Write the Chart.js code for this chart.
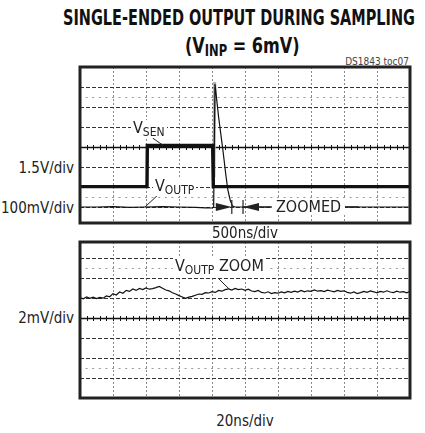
<!DOCTYPE html>
<html>
<head>
<meta charset="utf-8">
<script src="https://cdn.jsdelivr.net/npm/chart.js@4"></script>
<style>
  body { margin: 0; background: #fff; width: 425px; height: 433px; position: relative; overflow: hidden;
         font-family: 'Liberation Sans Narrow', 'DejaVu Sans Condensed', 'Liberation Sans', sans-serif; color: #222; }
  .t { position: absolute; white-space: nowrap; line-height: 1; }
  .title { font-weight: bold; font-size: 21px; transform-origin: 0 0; color: #111; }
  .title sub { font-size: 15px; vertical-align: -3px; }
  .lbl { font-size: 16px; background: #fff; padding: 0 2px; }
  .lbl sub { font-size: 12px; vertical-align: -3px; }
  .side { font-size: 15px; text-align: right; }
  .div { font-size: 15px; transform: translateX(-50%); }
  canvas { position: absolute; }
</style>
</head>
<body>
<div class="t title" id="t1" style="left:63px;top:8px">SINGLE-ENDED OUTPUT DURING SAMPLING</div>
<div class="t title" id="t2" style="left:185px;top:36px">(V<sub>INP</sub> = 6mV)</div>
<div class="t" style="right:16px;top:57px;font-size:10px;color:#444">DS1843 toc07</div>

<canvas id="top" width="338" height="164" style="left:76px;top:63px"></canvas>
<canvas id="zoom" width="338" height="164" style="left:76px;top:238px"></canvas>

<div class="t side" style="right:351px;top:161px">1.5V/div</div>
<div class="t side" style="right:351px;top:201px">100mV/div</div>
<div class="t side" style="right:351px;top:311px">2mV/div</div>
<div class="t div" style="left:245px;top:226px">500ns/div</div>
<div class="t div" style="left:245px;top:414px">20ns/div</div>

<div class="t lbl" style="left:131px;top:120px">V<sub>SEN</sub></div>
<div class="t lbl" style="left:153px;top:178px">V<sub>OUTP</sub></div>
<div class="t lbl" style="left:272px;top:199px;padding:0 4px">ZOOMED</div>
<div class="t lbl" style="left:173px;top:258px">V<sub>OUTP</sub> ZOOM</div>

<script>
// time in divisions (500ns/div top, 20ns/div bottom), level in divisions
const vsenT = [0, 2.03, 2.04, 4.02, 4.04, 10];
const vsenV = [2.02, 2.02, 4.08, 4.08, 2.02, 2.02];

const voutpT = [0, 0.5, 1.0, 1.5, 2.0, 2.5, 3.0, 3.5, 3.8, 4.0, 4.05, 4.09, 4.2, 4.33, 4.42, 4.48, 4.55, 4.62, 4.7, 5.0, 5.5, 6.0, 7.0, 8.0, 9.0, 10];
const voutpV = [1.0, 1.0, 1.02, 0.98, 1.0, 1.02, 1.0, 0.98, 0.96, 0.95, 1.0, 7.15, 5.5, 3.85, 2.6, 1.85, 1.35, 1.05, 1.0, 1.0, 1.0, 1.0, 1.0, 1.0, 1.0, 1.0];

const spikeT = [4.06, 4.08, 4.11];
const spikeV = [2.5, 7.25, 6.3];

const zoomT = [0, 0.1, 0.2, 0.3, 0.4, 0.5, 0.6, 0.7, 0.8, 0.9,
  1.0, 1.1, 1.2, 1.3, 1.4, 1.5, 1.6, 1.7, 1.8, 1.9,
  2.0, 2.1, 2.2, 2.3, 2.4, 2.5, 2.6, 2.7, 2.8, 2.9,
  3.0, 3.1, 3.2, 3.3, 3.4, 3.5, 3.6, 3.7, 3.8, 3.9,
  4.0, 4.1, 4.2, 4.3, 4.4, 4.5, 4.6, 4.7, 4.8, 4.9,
  5.0, 5.1, 5.2, 5.3, 5.4, 5.5, 5.6, 5.7, 5.8, 5.9,
  6.0, 6.1, 6.2, 6.3, 6.4, 6.5, 6.6, 6.7, 6.8, 6.9,
  7.0, 7.1, 7.2, 7.3, 7.4, 7.5, 7.6, 7.7, 7.8, 7.9,
  8.0, 8.1, 8.2, 8.3, 8.4, 8.5, 8.6, 8.7, 8.8, 8.9,
  9.0, 9.1, 9.2, 9.3, 9.4, 9.5, 9.6, 9.7, 9.8, 9.9, 10];
const zoomV = [5.02, 4.96, 5.05, 4.98, 5.04, 4.97, 5.03, 4.99, 5.10, 5.06,
  5.22, 5.15, 5.30, 5.24, 5.38, 5.33, 5.45, 5.38, 5.48, 5.42,
  5.50, 5.44, 5.47, 5.52, 5.58, 5.49, 5.40, 5.36, 5.26, 5.20,
  5.12, 5.05, 4.98, 5.04, 5.08, 5.14, 5.20, 5.18, 5.27, 5.25,
  5.32, 5.28, 5.38, 5.34, 5.42, 5.46, 5.40, 5.48, 5.42, 5.45,
  5.38, 5.44, 5.35, 5.32, 5.38, 5.28, 5.25, 5.31, 5.22, 5.27,
  5.24, 5.30, 5.26, 5.33, 5.28, 5.34, 5.30, 5.38, 5.31, 5.36,
  5.33, 5.40, 5.34, 5.37, 5.32, 5.39, 5.35, 5.31, 5.38, 5.33,
  5.36, 5.28, 5.24, 5.30, 5.22, 5.27, 5.33, 5.28, 5.35, 5.31,
  5.26, 5.33, 5.29, 5.36, 5.30, 5.27, 5.34, 5.29, 5.32, 5.26, 5.33];

const pts = (t, v) => t.map((x, i) => ({x, y: v[i]}));

// scope graticule + frame
const graticule = {
  id: 'graticule',
  beforeDatasetsDraw(chart) {
    const {ctx, chartArea: a, scales: {x, y}} = chart;
    const seg = (x1, y1, x2, y2) => { ctx.beginPath(); ctx.moveTo(x1, y1); ctx.lineTo(x2, y2); ctx.stroke(); };
    ctx.save();
    ctx.lineWidth = 1;
    ctx.strokeStyle = '#8a8a8a';
    ctx.setLineDash([2, 2]);
    for (let i = 1; i < 10; i++) {
      const px = Math.round(x.getPixelForValue(i)) + 0.5;
      seg(px, a.top, px, a.bottom);
    }
    ctx.strokeStyle = '#333';
    ctx.setLineDash([4, 2]);
    for (let j = 1; j < 8; j++) {
      if (j === 4) continue;
      const py = Math.round(y.getPixelForValue(j)) + 0.5;
      seg(a.left, py, a.right, py);
    }
    ctx.setLineDash([]);
    ctx.strokeStyle = '#9a9a9a';
    for (const r of [6.5, 1.5]) {
      const py = Math.round(y.getPixelForValue(r)) + 0.5;
      for (let t = 0.2; t < 10; t += 0.2) {
        const px = x.getPixelForValue(t);
        seg(px - 1, py, px + 1, py);
      }
    }
    ctx.strokeStyle = '#111';
    ctx.lineWidth = 1.3;
    const cy = Math.round(y.getPixelForValue(4)) + 0.5;
    seg(a.left, cy, a.right, cy);
    ctx.lineWidth = 1;
    for (let t = 0.2; t < 10; t += 0.2) {
      const px = Math.round(x.getPixelForValue(t)) + 0.5;
      seg(px, cy - 2.5, px, cy + 2.5);
    }
    ctx.restore();
  },
  afterDraw(chart) {
    const {ctx, chartArea: a} = chart;
    ctx.save();
    ctx.strokeStyle = '#222';
    ctx.lineWidth = 3;
    ctx.strokeRect(a.left, a.top, a.right - a.left, a.bottom - a.top);
    ctx.restore();
  }
};

// leader lines and the ZOOMED marker, in data coordinates
const leaders = {
  id: 'leaders',
  afterDatasetsDraw(chart, args, opts) {
    const {ctx, scales: {x, y}} = chart;
    const X = v => x.getPixelForValue(v), Y = v => y.getPixelForValue(v);
    ctx.save();
    ctx.strokeStyle = '#222';
    ctx.fillStyle = '#222';
    ctx.lineWidth = 1;
    for (const l of opts.lines || []) {
      ctx.beginPath(); ctx.moveTo(X(l[0]), Y(l[1])); ctx.lineTo(X(l[2]), Y(l[3])); ctx.stroke();
    }
    if (opts.zoomed) {
      const [a, b, lvl] = opts.zoomed;
      const py = Y(lvl);
      ctx.lineWidth = 1.2;
      for (const v of [a, b]) {
        ctx.beginPath(); ctx.moveTo(X(v), py - 7); ctx.lineTo(X(v), py + 7); ctx.stroke();
      }
      const head = (tip, dir) => {
        ctx.beginPath();
        ctx.moveTo(tip, py);
        ctx.lineTo(tip - dir * 16, py - 4);
        ctx.lineTo(tip - dir * 16, py + 4);
        ctx.closePath(); ctx.fill();
      };
      head(X(a), 1);
      head(X(b), -1);
      ctx.beginPath(); ctx.moveTo(X(b), py); ctx.lineTo(X(5.8), py); ctx.stroke();
      ctx.lineWidth = 1.5;
      ctx.beginPath(); ctx.moveTo(X(7.8), py); ctx.lineTo(X(8.45), py); ctx.stroke();
    }
    ctx.restore();
  }
};

const base = (ymin, ymax) => ({
  responsive: false,
  animation: false,
  layout: {padding: 4},
  plugins: {legend: {display: false}, tooltip: {enabled: false}},
  elements: {point: {radius: 0}, line: {tension: 0}},
  scales: {
    x: {type: 'linear', min: 0, max: 10, display: false},
    y: {min: ymin, max: ymax, display: false}
  }
});

const topOpts = base(0.2, 8);
topOpts.plugins.leaders = {
  lines: [[2.2, 4.45, 2.52, 4.08], [2.36, 1.6, 1.97, 1.0]],
  zoomed: [4.6, 4.94, 1.0]
};
new Chart(document.getElementById('top'), {
  type: 'line',
  data: {
    datasets: [
      {label: 'spike', data: pts(spikeT, spikeV), borderColor: '#b0b0b0', borderWidth: 3, order: 3},
      {label: 'VSEN', data: pts(vsenT, vsenV), borderColor: '#111', borderWidth: 3.4, order: 2},
      {label: 'VOUTP', data: pts(voutpT, voutpV), borderColor: '#111', borderWidth: 1.2, order: 1}
    ]
  },
  options: topOpts,
  plugins: [graticule, leaders]
});

const zoomOpts = base(0, 7.8);
zoomOpts.plugins.leaders = {lines: [[4.18, 6.0, 4.55, 5.4]]};
new Chart(document.getElementById('zoom'), {
  type: 'line',
  data: {
    datasets: [
      {label: 'VOUTP ZOOM', data: pts(zoomT, zoomV), borderColor: '#111', borderWidth: 1.2}
    ]
  },
  options: zoomOpts,
  plugins: [graticule, leaders]
});

// squeeze the title lines to the reference widths
for (const [id, w] of [['t1', 352], ['t2', 115]]) {
  const el = document.getElementById(id);
  el.style.transform = 'scaleX(' + (w / el.offsetWidth) + ')';
}
</script>
</body>
</html>
